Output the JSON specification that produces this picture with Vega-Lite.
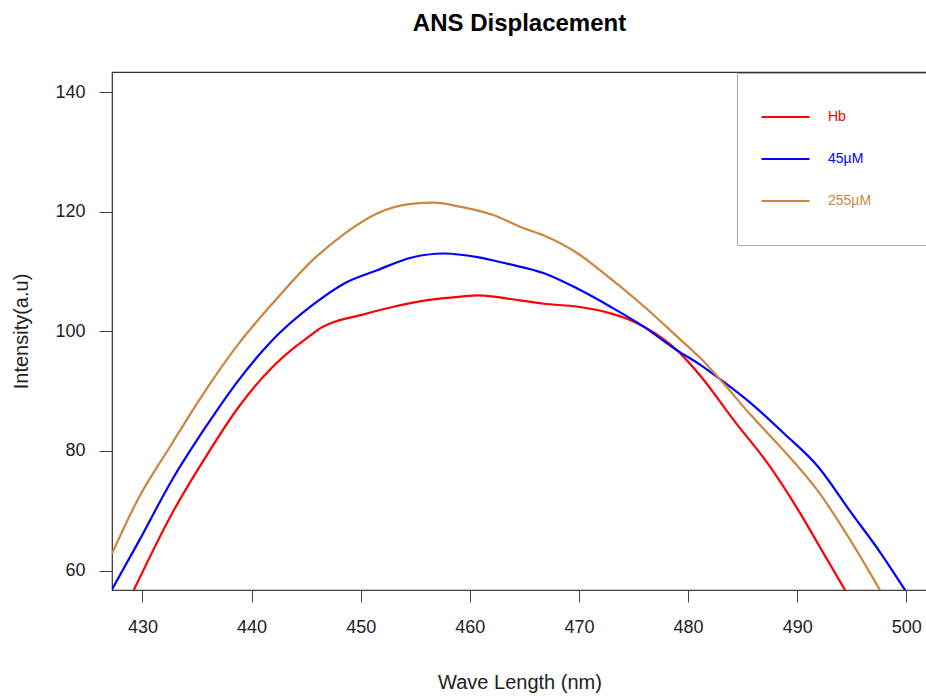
{
  "$schema": "https://vega.github.io/schema/vega-lite/v6.json",
  "width": 815,
  "height": 518,
  "autosize": {"type": "none"},
  "padding": {"left": 112, "top": 72, "right": 0, "bottom": 106},
  "background": "white",
  "title": {
    "text": "ANS Displacement",
    "font": "Liberation Sans",
    "fontSize": 24,
    "fontWeight": "bold",
    "color": "#000000",
    "anchor": "middle",
    "offset": 36
  },
  "config": {
    "view": {"stroke": "#333333", "strokeWidth": 1.2},
    "axis": {
      "grid": false,
      "domainColor": "#444444",
      "tickColor": "#444444",
      "labelFont": "Liberation Sans",
      "labelFontSize": 18,
      "labelColor": "#222222",
      "titleFont": "Liberation Sans",
      "titleFontSize": 20,
      "titleFontWeight": "normal",
      "titleColor": "#222222"
    }
  },
  "data": {
    "values": [
      {"series": "Hb", "wl": 429.2, "intensity": 56.7},
      {"series": "Hb", "wl": 432.7, "intensity": 69.5},
      {"series": "Hb", "wl": 435.8, "intensity": 79.0},
      {"series": "Hb", "wl": 438.8, "intensity": 87.3},
      {"series": "Hb", "wl": 441.9, "intensity": 94.0},
      {"series": "Hb", "wl": 444.0, "intensity": 97.4},
      {"series": "Hb", "wl": 445.4, "intensity": 99.3},
      {"series": "Hb", "wl": 446.2, "intensity": 100.4},
      {"series": "Hb", "wl": 447.2, "intensity": 101.3},
      {"series": "Hb", "wl": 450.0, "intensity": 102.7},
      {"series": "Hb", "wl": 453.0, "intensity": 104.1},
      {"series": "Hb", "wl": 456.1, "intensity": 105.2},
      {"series": "Hb", "wl": 459.2, "intensity": 105.8},
      {"series": "Hb", "wl": 460.7, "intensity": 106.0},
      {"series": "Hb", "wl": 462.2, "intensity": 105.8},
      {"series": "Hb", "wl": 463.7, "intensity": 105.4},
      {"series": "Hb", "wl": 466.8, "intensity": 104.6},
      {"series": "Hb", "wl": 469.9, "intensity": 104.1},
      {"series": "Hb", "wl": 472.9, "intensity": 103.0},
      {"series": "Hb", "wl": 474.4, "intensity": 102.1},
      {"series": "Hb", "wl": 476.0, "intensity": 100.7},
      {"series": "Hb", "wl": 479.0, "intensity": 96.8},
      {"series": "Hb", "wl": 481.2, "intensity": 92.4},
      {"series": "Hb", "wl": 484.2, "intensity": 85.1},
      {"series": "Hb", "wl": 487.3, "intensity": 77.9},
      {"series": "Hb", "wl": 490.3, "intensity": 69.5},
      {"series": "Hb", "wl": 491.9, "intensity": 64.5},
      {"series": "Hb", "wl": 494.4, "intensity": 56.7},
      {"series": "45µM", "wl": 427.2, "intensity": 56.8},
      {"series": "45µM", "wl": 429.7, "intensity": 65.0},
      {"series": "45µM", "wl": 432.7, "intensity": 75.1},
      {"series": "45µM", "wl": 435.8, "intensity": 84.0},
      {"series": "45µM", "wl": 438.8, "intensity": 91.8},
      {"series": "45µM", "wl": 441.9, "intensity": 98.5},
      {"series": "45µM", "wl": 445.6, "intensity": 104.4},
      {"series": "45µM", "wl": 448.5, "intensity": 108.0},
      {"series": "45µM", "wl": 451.5, "intensity": 110.2},
      {"series": "45µM", "wl": 454.6, "intensity": 112.3},
      {"series": "45µM", "wl": 457.6, "intensity": 113.0},
      {"series": "45µM", "wl": 460.7, "intensity": 112.4},
      {"series": "45µM", "wl": 463.4, "intensity": 111.3},
      {"series": "45µM", "wl": 466.8, "intensity": 109.7},
      {"series": "45µM", "wl": 469.9, "intensity": 107.1},
      {"series": "45µM", "wl": 472.9, "intensity": 104.1},
      {"series": "45µM", "wl": 476.0, "intensity": 100.7},
      {"series": "45µM", "wl": 479.0, "intensity": 96.8},
      {"series": "45µM", "wl": 481.2, "intensity": 94.3},
      {"series": "45µM", "wl": 483.0, "intensity": 91.9},
      {"series": "45µM", "wl": 485.8, "intensity": 87.9},
      {"series": "45µM", "wl": 488.8, "intensity": 82.9},
      {"series": "45µM", "wl": 491.9, "intensity": 77.4},
      {"series": "45µM", "wl": 494.9, "intensity": 69.8},
      {"series": "45µM", "wl": 497.7, "intensity": 62.8},
      {"series": "45µM", "wl": 499.9, "intensity": 56.7},
      {"series": "255µM", "wl": 427.2, "intensity": 62.8},
      {"series": "255µM", "wl": 429.7, "intensity": 72.3},
      {"series": "255µM", "wl": 432.7, "intensity": 81.2},
      {"series": "255µM", "wl": 435.2, "intensity": 88.5},
      {"series": "255µM", "wl": 438.8, "intensity": 97.9},
      {"series": "255µM", "wl": 441.9, "intensity": 104.6},
      {"series": "255µM", "wl": 445.6, "intensity": 111.9},
      {"series": "255µM", "wl": 448.5, "intensity": 116.3},
      {"series": "255µM", "wl": 451.5, "intensity": 119.7},
      {"series": "255µM", "wl": 454.6, "intensity": 121.3},
      {"series": "255µM", "wl": 456.7, "intensity": 121.5},
      {"series": "255µM", "wl": 459.2, "intensity": 120.8},
      {"series": "255µM", "wl": 462.2, "intensity": 119.4},
      {"series": "255µM", "wl": 464.7, "intensity": 117.4},
      {"series": "255µM", "wl": 466.8, "intensity": 116.0},
      {"series": "255µM", "wl": 469.9, "intensity": 113.0},
      {"series": "255µM", "wl": 472.9, "intensity": 108.8},
      {"series": "255µM", "wl": 476.0, "intensity": 104.1},
      {"series": "255µM", "wl": 479.0, "intensity": 99.1},
      {"series": "255µM", "wl": 481.2, "intensity": 95.4},
      {"series": "255µM", "wl": 483.0, "intensity": 91.8},
      {"series": "255µM", "wl": 485.8, "intensity": 85.9},
      {"series": "255µM", "wl": 488.8, "intensity": 80.0},
      {"series": "255µM", "wl": 491.9, "intensity": 73.3},
      {"series": "255µM", "wl": 494.9, "intensity": 65.0},
      {"series": "255µM", "wl": 497.6, "intensity": 56.7}
    ]
  },
  "mark": {"type": "line", "strokeWidth": 2.2, "clip": true, "interpolate": "monotone"},
  "encoding": {
    "x": {
      "field": "wl",
      "type": "quantitative",
      "title": "Wave Length (nm)",
      "scale": {"domain": [427.21, 501.9], "nice": false, "zero": false},
      "axis": {"values": [430, 440, 450, 460, 470, 480, 490, 500], "tickSize": 12, "labelPadding": 16, "titlePadding": 36}
    },
    "y": {
      "field": "intensity",
      "type": "quantitative",
      "title": "Intensity(a.u)",
      "scale": {"domain": [56.74, 143.35], "nice": false, "zero": false},
      "axis": {"values": [60, 80, 100, 120, 140], "tickSize": 13, "labelPadding": 14, "titlePadding": 23}
    },
    "color": {
      "field": "series",
      "type": "nominal",
      "scale": {"domain": ["Hb", "45µM", "255µM"], "range": ["#ff0000", "#0000ff", "#cd853f"]},
      "legend": {
        "title": "\u2800\u2800\u2800\u2800",
        "titleOrient": "right",
        "titleFontSize": 14,
        "titlePadding": 0,
        "orient": "none",
        "legendX": 625,
        "legendY": 1,
        "padding": 23,
        "symbolType": "stroke",
        "symbolSize": 2304,
        "symbolStrokeWidth": 2.2,
        "clipHeight": 42,
        "rowPadding": 0,
        "labelFont": "Liberation Sans",
        "labelFontSize": 14,
        "labelOffset": 17,
        "labelColor": {"expr": "scale('color', datum.value)"},
        "strokeColor": "#aaaaaa",
        "fillColor": "#ffffff"
      }
    }
  }
}
